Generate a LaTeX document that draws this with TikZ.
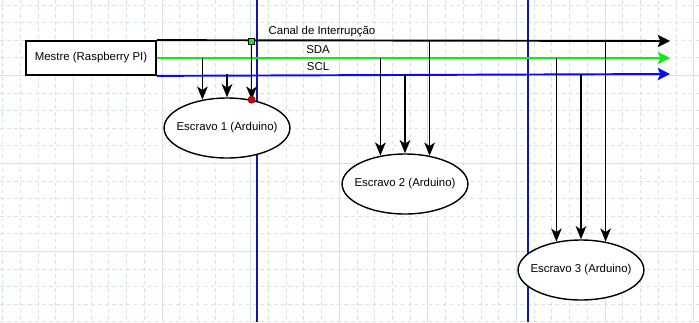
\documentclass[tikz,border=0pt]{standalone}
\usepackage{fontspec}
\setmainfont{Liberation Sans}
\usetikzlibrary{positioning, arrows.meta, shapes.geometric}

\definecolor{gridc}{RGB}{212,228,228}
\definecolor{pagec}{RGB}{20,20,170}
\definecolor{sdac}{RGB}{20,235,20}
\definecolor{sclc}{RGB}{10,10,250}

\begin{document}
\begin{tikzpicture}[x=0.02cm, y=-0.02cm,
      every node/.style={font=\fontsize{6.5}{8}\selectfont},
      bus/.style={line width=1.1pt, -{Stealth[length=7pt, width=7pt, inset=1.5pt]}},
      tap/.style={line width=1pt, -{Stealth[length=7.5pt, width=6pt, inset=2pt]}},
      slave/.style={ellipse, draw, line width=0.8pt, fill=white,
          minimum width=2.48cm, minimum height=1.2cm, inner xsep=-3.4pt, inner ysep=0pt},
      master/.style={draw, line width=1pt, fill=white,
          minimum width=2.6cm, minimum height=0.68cm, inner sep=0pt},
    ]
    \useasboundingbox[fill=white] (0,0) rectangle (699,322);

    % Background grid
    \foreach \k in {0,...,39}
    \draw[gridc, line width=0.4pt, dash pattern=on 2pt off 2pt]
    ({2.5+\k*17.72},0) -- ({2.5+\k*17.72},322);
    \foreach \k in {0,...,18}
    \draw[gridc, line width=0.4pt, dash pattern=on 2pt off 2pt]
    (0,{4.9+\k*17.6}) -- (699,{4.9+\k*17.6});
    \foreach \k in {4,9,...,39}
    \draw[gridc, line width=0.5pt] ({2.5+\k*17.72},0) -- ({2.5+\k*17.72},322);
    \foreach \k in {4,9,14}
    \draw[gridc, line width=0.5pt] (0,{4.9+\k*17.6}) -- (699,{4.9+\k*17.6});

    % Page breaks
    \draw[pagec, line width=0.6pt] (257,0) -- (257,322);
    \draw[pagec, line width=0.6pt] (528,0) -- (528,322);

    % Master and buses
    \node[master] (mestre) at (91,58) {Mestre (Raspberry PI)};
    \coordinate (irq) at (670,41);
    \coordinate (sda) at (670,58);
    \coordinate (scl) at (670,74);
    \draw[bus] (mestre.north east) -- (irq);
    \draw[bus, sdac] (mestre.east) -- (sda);
    \draw[bus, sclc] (mestre.south east) -- (scl);
    \node (irqlbl) at (322,32) {Canal de Interrupção};
    \node (sdalbl) at (318,50) {SDA};
    \node (scllbl) at (318,66.5) {SCL};

    % Slaves
    \node[slave] (e1) at (227,128) {Escravo 1 (Arduino)};
    \node[slave] (e2) at (405,184) {Escravo 2 (Arduino)};
    \node[slave] (e3) at (581,270) {Escravo 3 (Arduino)};

    % Taps from the buses
    \foreach \s in {e1,e2,e3}{
        \draw[tap] (\s.131 |- sda) -- (\s.131);
        \draw[tap] (\s.north |- scl) -- (\s.north);
        \draw[tap] (\s.49 |- irq) -- (\s.49);
      }

    % Selected connection ends
    \node[draw, fill=sdac, line width=0.4pt, minimum size=3.5pt, inner sep=0pt]
    (irqsel) at (e1.49 |- irq) {};
    \node[circle, draw=red!50!black, fill=red!85!black, line width=0.4pt,
      minimum size=4pt, inner sep=0pt] (e1sel) at (e1.49) {};
  \end{tikzpicture}
\end{document}
